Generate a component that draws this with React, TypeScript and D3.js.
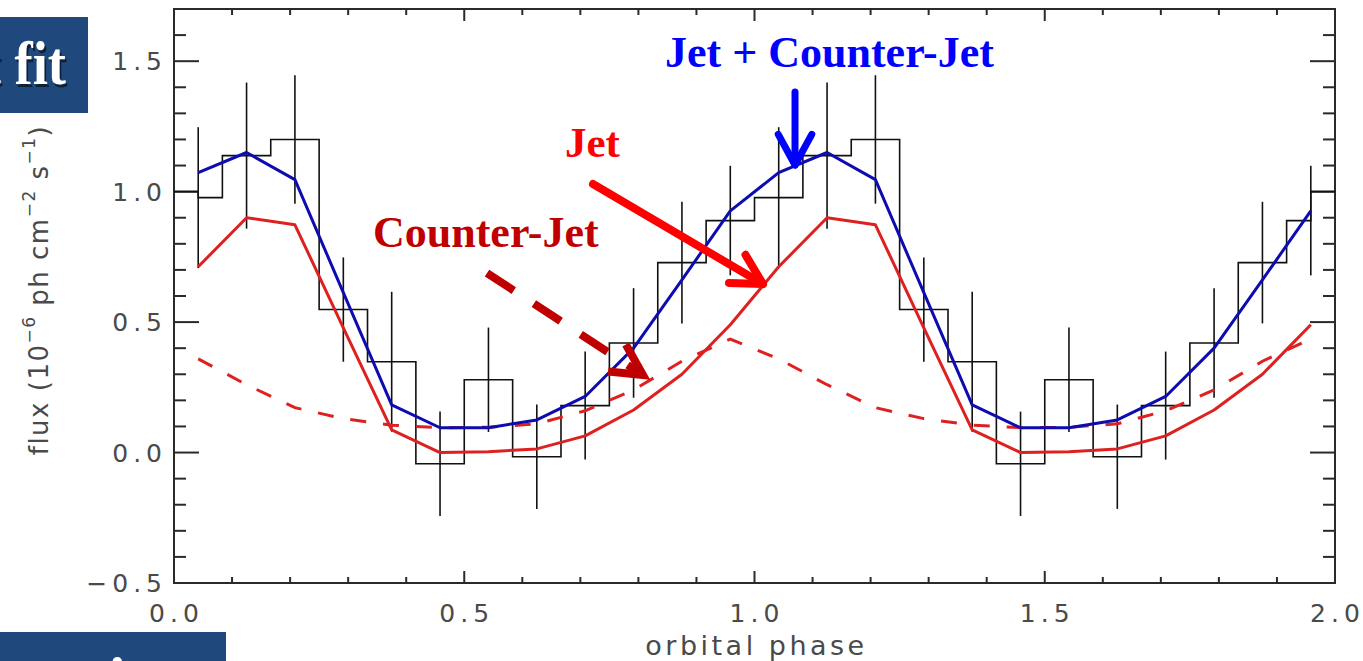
import React from 'react';
import * as d3 from 'd3';

// ---------- data ----------
// orbital phase of each bin centre (two folded cycles)
const phaseBins = [
  0.0417, 0.125, 0.2083, 0.2917, 0.375, 0.4583, 0.5417, 0.625, 0.7083, 0.7917, 0.875, 0.9583,
  1.0417, 1.125, 1.2083, 1.2917, 1.375, 1.4583, 1.5417, 1.625, 1.7083, 1.7917, 1.875, 1.9583,
];
// observed flux (histogram levels)
const fluxObserved = [
  0.977, 1.138, 1.2, 0.548, 0.348, -0.043, 0.279, -0.016, 0.18, 0.42, 0.728, 0.889,
  0.977, 1.138, 1.2, 0.548, 0.348, -0.043, 0.279, -0.016, 0.18, 0.42, 0.728, 0.889,
];
// 1-sigma errors
const fluxError = [
  0.27, 0.28, 0.246, 0.2, 0.268, 0.2, 0.2, 0.2, 0.207, 0.21, 0.233, 0.21,
  0.27, 0.28, 0.246, 0.2, 0.268, 0.2, 0.2, 0.2, 0.207, 0.21, 0.233, 0.21,
];
// histogram end stubs (phase 0 and phase 2)
const histEdgeFlux = 1.0;
// model: Jet + Counter-Jet
const modelTotal = [
  1.073, 1.15, 1.046, 0.613, 0.183, 0.095, 0.095, 0.125, 0.215, 0.4, 0.662, 0.926,
  1.073, 1.15, 1.046, 0.613, 0.183, 0.095, 0.095, 0.125, 0.215, 0.4, 0.662, 0.926,
];
// model: Jet
const modelJet = [
  0.712, 0.9, 0.873, 0.478, 0.087, 0.0, 0.003, 0.014, 0.064, 0.163, 0.3, 0.49,
  0.712, 0.9, 0.873, 0.478, 0.087, 0.0, 0.003, 0.014, 0.064, 0.163, 0.3, 0.49,
];
// model: Counter-Jet
const modelCounterJet = [
  0.359, 0.26, 0.172, 0.13, 0.105, 0.095, 0.097, 0.11, 0.16, 0.24, 0.35, 0.435,
  0.359, 0.26, 0.172, 0.13, 0.105, 0.095, 0.097, 0.11, 0.16, 0.24, 0.35, 0.435,
];
const xTicks = [0, 0.5, 1.0, 1.5, 2.0];
const xTickLabels = ['0.0', '0.5', '1.0', '1.5', '2.0'];
const yTicks = [-0.5, 0, 0.5, 1.0, 1.5];
const yTickLabels = ['\u22120.5', '0.0', '0.5', '1.0', '1.5'];
const xDomain = [0, 2];
const yDomain = [-0.5, 1.7];

// ---------- layout ----------
const W = 1363;
const H = 661;
const L = 174;
const R = 1335;
const T = 9;
const B = 583;

const BOX = '#1F497D';
const BLUE = '#0c0cb0';
const RED = '#de2020';
const TICK_FONT = "'DejaVu Sans', Verdana, sans-serif";
const ANN_FONT = "'Liberation Serif', 'Times New Roman', serif";

type Pt = [number, number];

function arrowHead(tail: Pt, tip: Pt, len: number, spread: number): string {
  const ang = Math.atan2(tip[1] - tail[1], tip[0] - tail[0]) + Math.PI;
  const a1 = ang + spread;
  const a2 = ang - spread;
  const w1: Pt = [tip[0] + len * Math.cos(a1), tip[1] + len * Math.sin(a1)];
  const w2: Pt = [tip[0] + len * Math.cos(a2), tip[1] + len * Math.sin(a2)];
  return `M${w1[0]},${w1[1]}L${tip[0]},${tip[1]}L${w2[0]},${w2[1]}`;
}

export default function App() {
  const x = d3.scaleLinear().domain(xDomain).range([L, R]);
  const y = d3.scaleLinear().domain(yDomain).range([B, T]);

  const line = d3
    .line<Pt>()
    .x((d) => x(d[0]))
    .y((d) => y(d[1]));

  const series = (vals: number[]): Pt[] => phaseBins.map((p, i) => [p, vals[i]]);

  // histogram (IDL psym=10 style): steps at midpoints between bin centres
  const n = phaseBins.length;
  const histPts: Pt[] = [
    [xDomain[0], histEdgeFlux],
    [phaseBins[0], histEdgeFlux],
  ];
  for (let i = 0; i < n; i++) {
    const left = i === 0 ? phaseBins[0] : (phaseBins[i - 1] + phaseBins[i]) / 2;
    const right = i === n - 1 ? phaseBins[n - 1] : (phaseBins[i] + phaseBins[i + 1]) / 2;
    histPts.push([left, fluxObserved[i]]);
    histPts.push([right, fluxObserved[i]]);
  }
  histPts.push([phaseBins[n - 1], histEdgeFlux]);
  histPts.push([xDomain[1], histEdgeFlux]);
  const histPath = d3.line<Pt>().x((d) => x(d[0])).y((d) => y(d[1]))(histPts) || '';

  const xMinor = d3.range(0, 2.0001, 0.1).map((v) => +v.toFixed(2));
  const yMinor = d3.range(-0.5, 1.7001, 0.1).map((v) => +v.toFixed(2));
  const isMajor = (v: number, majors: number[]) => majors.some((m) => Math.abs(m - v) < 1e-6);

  // annotations, in data coordinates
  const blueTail: Pt = [x(1.0698), y(1.382)];
  const blueTip: Pt = [x(1.0698), y(1.102)];
  const jetTail: Pt = [x(0.7218), y(1.029)];
  const jetTip: Pt = [x(1.0146), y(0.646)];
  const cjTail: Pt = [x(0.5392), y(0.688)];
  const cjTip: Pt = [x(0.8079), y(0.297)];

  return (
    <svg
      width={W}
      height={H}
      viewBox={`0 0 ${W} ${H}`}
      style={{ position: 'absolute', left: 0, top: 0, background: '#ffffff' }}
    >
      <rect x={0} y={0} width={W} height={H} fill="#ffffff" />

      {/* side boxes */}
      <rect x={-10} y={17} width={98} height={96} fill={BOX} />
      <g transform="translate(66,84) scale(0.88,1)">
        <text x={2} y={3} textAnchor="end" fontFamily={ANN_FONT} fontWeight="bold" fontSize={62} fill="rgba(0,0,0,0.55)">
          Best fit
        </text>
        <text x={0} y={0} textAnchor="end" fontFamily={ANN_FONT} fontWeight="bold" fontSize={62} fill="#ffffff">
          Best fit
        </text>
      </g>
      <rect x={-10} y={632} width={236} height={40} fill={BOX} />
      <text x={117} y={700} textAnchor="middle" fontFamily={ANN_FONT} fontWeight="bold" fontSize={62} fill="#ffffff">
        i
      </text>

      {/* frame */}
      <rect x={L} y={T} width={R - L} height={B - T} fill="none" stroke="#2a2a2a" strokeWidth={2} />

      {/* ticks */}
      {xMinor.map((v) => {
        const major = isMajor(v, xTicks);
        const len = major ? 12 : 6;
        return (
          <g key={'xt' + v} stroke="#2a2a2a" strokeWidth={2}>
            <line x1={x(v)} x2={x(v)} y1={B} y2={B - len} />
            <line x1={x(v)} x2={x(v)} y1={T} y2={T + len} />
          </g>
        );
      })}
      {yMinor.map((v) => {
        const major = isMajor(v, yTicks);
        const len = major ? 25 : 12;
        return (
          <g key={'yt' + v} stroke="#2a2a2a" strokeWidth={2}>
            <line x1={L} x2={L + len} y1={y(v)} y2={y(v)} />
            <line x1={R} x2={R - len} y1={y(v)} y2={y(v)} />
          </g>
        );
      })}

      {/* tick labels */}
      {xTicks.map((v, i) => (
        <text
          key={'xl' + v}
          x={x(v) + 2.5}
          y={622}
          textAnchor="middle"
          fontFamily={TICK_FONT}
          fontSize={25}
          letterSpacing={5}
          fill="#4a4a4a"
        >
          {xTickLabels[i]}
        </text>
      ))}
      {yTicks.map((v, i) => (
        <text
          key={'yl' + v}
          x={167}
          y={y(v) + 9}
          textAnchor="end"
          fontFamily={TICK_FONT}
          fontSize={25}
          letterSpacing={5}
          fill="#4a4a4a"
        >
          {yTickLabels[i]}
        </text>
      ))}

      {/* axis titles */}
      <text
        x={(L + R) / 2 + 2}
        y={655}
        textAnchor="middle"
        fontFamily={TICK_FONT}
        fontSize={27}
        letterSpacing={3.5}
        fill="#4a4a4a"
      >
        orbital phase
      </text>
      <text
        transform={`translate(48,${(T + B) / 2 - 6}) rotate(-90)`}
        textAnchor="middle"
        fontFamily={TICK_FONT}
        fontSize={26}
        letterSpacing={1.5}
        fill="#4a4a4a"
      >
        <tspan>flux (10</tspan>
        <tspan fontSize={17} dy={-13}>{'\u22126'}</tspan>
        <tspan dy={13}> ph cm</tspan>
        <tspan fontSize={17} dy={-13}>{'\u22122'}</tspan>
        <tspan dy={13}> s</tspan>
        <tspan fontSize={17} dy={-13}>{'\u22121'}</tspan>
        <tspan dy={13}>)</tspan>
      </text>

      {/* data histogram and error bars */}
      <path d={histPath} fill="none" stroke="#111111" strokeWidth={1.6} />
      {phaseBins.map((p, i) => (
        <line
          key={'eb' + i}
          x1={x(p)}
          x2={x(p)}
          y1={y(fluxObserved[i] + fluxError[i])}
          y2={y(fluxObserved[i] - fluxError[i])}
          stroke="#111111"
          strokeWidth={1.6}
        />
      ))}

      {/* models */}
      <path
        d={line(series(modelCounterJet)) || ''}
        fill="none"
        stroke={RED}
        strokeWidth={3}
        strokeDasharray="16 17"
      />
      <path d={line(series(modelJet)) || ''} fill="none" stroke={RED} strokeWidth={3} strokeLinejoin="round" />
      <path d={line(series(modelTotal)) || ''} fill="none" stroke={BLUE} strokeWidth={3} strokeLinejoin="round" />

      {/* annotations */}
      <text x={x(0.8458)} y={y(1.478)} fontFamily={ANN_FONT} fontWeight="bold" fontSize={44} fill="#0000ff">
        Jet + Counter-Jet
      </text>
      <text x={x(0.6736)} y={y(1.133)} fontFamily={ANN_FONT} fontWeight="bold" fontSize={43} fill="#ff0000">
        Jet
      </text>
      <text x={x(0.3428)} y={y(0.788)} fontFamily={ANN_FONT} fontWeight="bold" fontSize={44} fill="#c00000">
        Counter-Jet
      </text>

      <g fill="none" strokeLinecap="round" strokeLinejoin="round">
        <line x1={blueTail[0]} y1={blueTail[1]} x2={blueTip[0]} y2={blueTip[1]} stroke="#0000ff" strokeWidth={7} />
        <path d={arrowHead(blueTail, blueTip, 35, 0.5)} stroke="#0000ff" strokeWidth={7} />

        <line x1={jetTail[0]} y1={jetTail[1]} x2={jetTip[0]} y2={jetTip[1]} stroke="#ff0000" strokeWidth={8} />
        <path d={arrowHead(jetTail, jetTip, 34, 0.5)} stroke="#ff0000" strokeWidth={8} />
      </g>
      <line
        x1={cjTail[0]}
        y1={cjTail[1]}
        x2={cjTip[0]}
        y2={cjTip[1]}
        stroke="#c00000"
        strokeWidth={8}
        strokeDasharray="32 24"
        strokeLinecap="butt"
      />
      <path d={arrowHead(cjTail, cjTip, 35, 0.48)} fill="none" stroke="#c00000" strokeWidth={8} strokeLinejoin="miter" />
    </svg>
  );
}
